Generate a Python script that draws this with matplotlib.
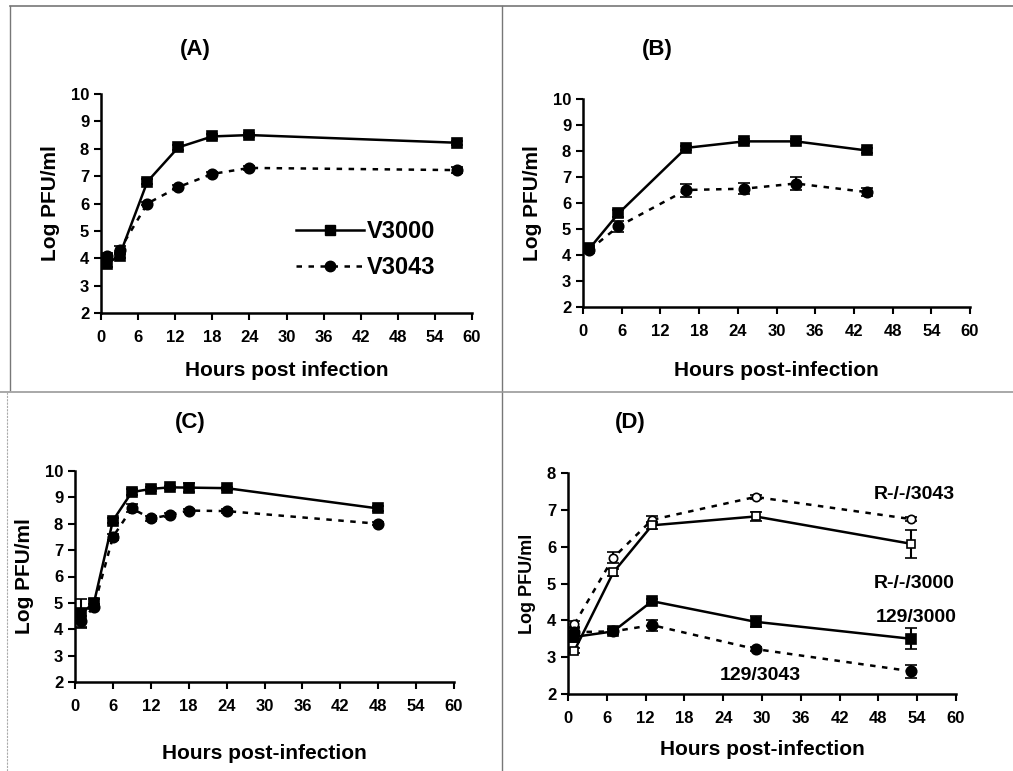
import matplotlib
matplotlib.use("Agg")
import matplotlib.pyplot as plt
from matplotlib.lines import Line2D

plt.rcParams['font.family'] = ['Liberation Sans', 'DejaVu Sans']
plt.rcParams['font.weight'] = 'bold'

# ---------------- data ----------------
# Panel A
a_hours = [1, 3, 7.5, 12.5, 18, 24, 57.5]
a_v3000 = [3.8, 4.1, 6.8, 8.05, 8.45, 8.5, 8.22]
a_v3000_err = [0.12, 0.1, 0.08, 0.08, 0.1, 0.07, 0.08]
a_v3043 = [4.1, 4.3, 6.0, 6.6, 7.08, 7.3, 7.22]
a_v3043_err = [0.08, 0.15, 0.06, 0.06, 0.06, 0.06, 0.12]

# Panel B
b_hours = [1, 5.5, 16, 25, 33, 44]
b_v3000 = [4.25, 5.6, 8.12, 8.37, 8.37, 8.02]
b_v3000_err = [0.08, 0.12, 0.08, 0.08, 0.08, 0.1]
b_v3043 = [4.2, 5.1, 6.5, 6.55, 6.75, 6.42]
b_v3043_err = [0.08, 0.2, 0.25, 0.22, 0.25, 0.15]

# Panel C
c_hours = [1, 3, 6, 9, 12, 15, 18, 24, 48]
c_v3000 = [4.6, 5.0, 8.12, 9.2, 9.32, 9.38, 9.37, 9.35, 8.58]
c_v3000_err = [0.55, 0.15, 0.1, 0.1, 0.06, 0.06, 0.18, 0.06, 0.1]
c_v3043 = [4.3, 4.85, 7.5, 8.58, 8.2, 8.33, 8.5, 8.48, 8.0]
c_v3043_err = [0.2, 0.1, 0.12, 0.15, 0.1, 0.06, 0.06, 0.08, 0.06]

# Panel D
d_hours = [1, 7, 13, 29, 53]
d_r3043 = [3.9, 5.7, 6.73, 7.35, 6.75]
d_r3043_err = [0.08, 0.15, 0.1, 0.05, 0.05]
d_r3000 = [3.18, 5.3, 6.58, 6.82, 6.08]
d_r3000_err = [0.08, 0.1, 0.1, 0.12, 0.38]
d_129_3000 = [3.55, 3.7, 4.52, 3.96, 3.5]
d_129_3000_err = [0.15, 0.06, 0.06, 0.15, 0.28]
d_129_3043 = [3.68, 3.7, 3.87, 3.22, 2.62]
d_129_3043_err = [0.1, 0.06, 0.15, 0.05, 0.18]

legend_labels = ['V3000', 'V3043']
x_ticks = [0, 6, 12, 18, 24, 30, 36, 42, 48, 54, 60]

W, H = 1013, 771
fig = plt.figure(figsize=(W / 100, H / 100), dpi=100)


def box(l, t, r, b):
    return [l / W, 1 - b / H, (r - l) / W, (b - t) / H]


DASH = (0, (2.2, 2.6))


def series(ax, x, y, err, marker, dashed, filled=True, ms=7.5):
    ax.errorbar(x, y, yerr=err, color='black', lw=1.8,
                linestyle=DASH if dashed else '-',
                marker=marker, ms=ms, mfc='black' if filled else 'white',
                mec='black', mew=1.2, ecolor='black', elinewidth=1.5,
                capsize=4, capthick=1.5, zorder=3)


def style(ax, ymin, ymax, xlabel, ylabel, ylab_size=15):
    ax.set_xlim(0, 60)
    ax.set_ylim(ymin, ymax)
    ax.set_xticks(x_ticks)
    ax.set_yticks(range(ymin, ymax + 1))
    for s in ['top', 'right']:
        ax.spines[s].set_visible(False)
    for s in ['left', 'bottom']:
        ax.spines[s].set_linewidth(1.8)
    ax.tick_params(direction='out', length=5, width=1.5, labelsize=12)
    ax.tick_params(axis='x', pad=7)
    ax.set_xlabel(xlabel, fontsize=15, fontweight='bold', labelpad=12)
    ax.set_ylabel(ylabel, fontsize=ylab_size, fontweight='bold', labelpad=8)
    for lab in ax.get_xticklabels() + ax.get_yticklabels():
        lab.set_fontweight('bold')


# Panel A
axA = fig.add_axes(box(101, 94, 472, 313))
series(axA, a_hours, a_v3000, a_v3000_err, 's', False)
series(axA, a_hours, a_v3043, a_v3043_err, 'o', True)
style(axA, 2, 10, 'Hours post infection', 'Log PFU/ml')
handles = [Line2D([], [], color='black', lw=1.8, marker='s', ms=7.5),
           Line2D([], [], color='black', lw=1.8, linestyle=DASH, marker='o', ms=7.5)]
axA.legend(handles, legend_labels, loc='center left',
           bbox_to_anchor=(0.50, 0.29), frameon=False,
           prop={'size': 17, 'weight': 'bold'}, handlelength=2.9,
           handletextpad=0.1, labelspacing=0.55, borderaxespad=0)
fig.text(195 / W, 1 - 50 / H, '(A)', fontsize=16, fontweight='bold',
         ha='center', va='center')

# Panel B
axB = fig.add_axes(box(583, 99, 970, 307))
series(axB, b_hours, b_v3000, b_v3000_err, 's', False)
series(axB, b_hours, b_v3043, b_v3043_err, 'o', True)
style(axB, 2, 10, 'Hours post-infection', 'Log PFU/ml')
axB.xaxis.labelpad = 16
fig.text(657 / W, 1 - 50 / H, '(B)', fontsize=16, fontweight='bold',
         ha='center', va='center')

# Panel C
axC = fig.add_axes(box(75, 471, 454, 682))
series(axC, c_hours, c_v3000, c_v3000_err, 's', False)
series(axC, c_hours, c_v3043, c_v3043_err, 'o', True)
style(axC, 2, 10, 'Hours post-infection', 'Log PFU/ml')
axC.xaxis.labelpad = 22
fig.text(190 / W, 1 - 422 / H, '(C)', fontsize=16, fontweight='bold',
         ha='center', va='center')

# Panel D
axD = fig.add_axes(box(568, 473, 956, 694))
series(axD, d_hours, d_r3043, d_r3043_err, 'o', True, filled=False, ms=6)
series(axD, d_hours, d_r3000, d_r3000_err, 's', False, filled=False, ms=6)
series(axD, d_hours, d_129_3000, d_129_3000_err, 's', False)
series(axD, d_hours, d_129_3043, d_129_3043_err, 'o', True)
style(axD, 2, 8, 'Hours post-infection', 'Log PFU/ml', ylab_size=13)
axD.xaxis.labelpad = 10
fig.text(630 / W, 1 - 422 / H, '(D)', fontsize=16, fontweight='bold',
         ha='center', va='center')
for txt, xx, yy in [('R-/-/3043', 955, 494), ('R-/-/3000', 955, 583),
                    ('129/3000', 957, 618)]:
    fig.text(xx / W, 1 - yy / H, txt, fontsize=14, fontweight='bold',
             ha='right', va='center')
fig.text(760 / W, 1 - 676 / H, '129/3043', fontsize=14, fontweight='bold',
         ha='center', va='center')

# panel frame lines (scanned page borders)
gray = '#777777'
fig.add_artist(Line2D([10 / W, 1], [1 - 6 / H, 1 - 6 / H], color=gray, lw=1.2))
fig.add_artist(Line2D([10 / W, 10 / W], [1 - 6 / H, 1 - 390 / H], color=gray, lw=1.0))
fig.add_artist(Line2D([502 / W, 502 / W], [1 - 6 / H, 0], color=gray, lw=1.0))
fig.add_artist(Line2D([0, 1], [1 - 392 / H, 1 - 392 / H], color='#999999', lw=1.2))
fig.add_artist(Line2D([7 / W, 7 / W], [1 - 392 / H, 0], color='#aaaaaa', lw=0.8,
                      linestyle=(0, (2, 1))))

fig.savefig('out.png', dpi=100)
